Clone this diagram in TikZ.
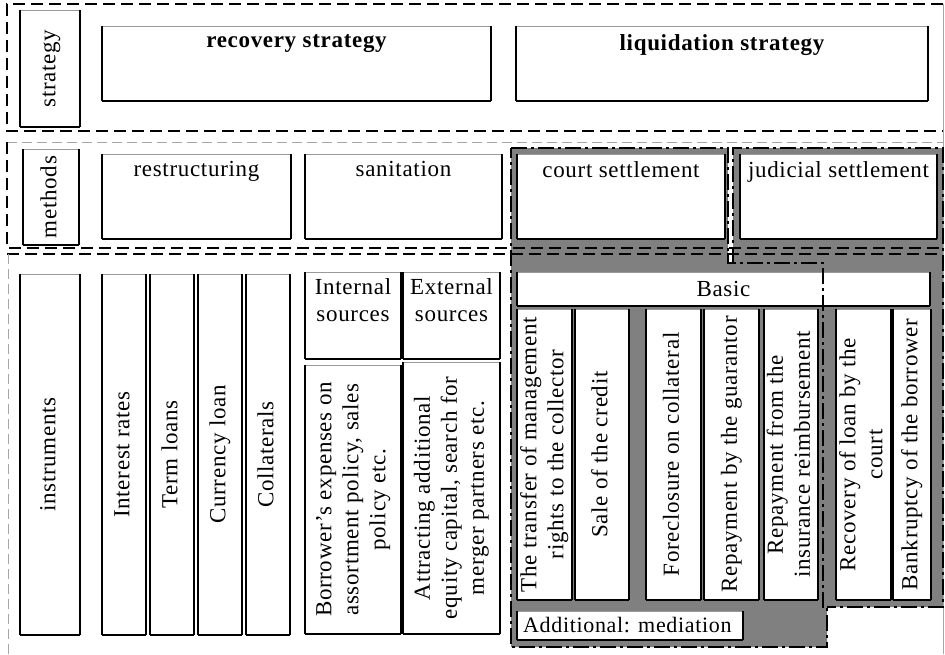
\documentclass[tikz,border=0pt]{standalone}
\usepackage{fontspec}
\setmainfont{Liberation Serif}[LetterSpace=3]
\newcommand\rottext[1]{\rotatebox{90}{\begin{tabular}{@{}c@{}}#1\end{tabular}}}
\newcommand\cellbox[6]{\node[cell, minimum width={(#4)-(#2)}, minimum height={(#5)-(#3)}] (#1) at ({((#2)+(#4))/2},{((#3)+(#5))/2}) {#6};}
\begin{document}
\begin{tikzpicture}[x=1pt,y=-1pt,
  cell/.style={draw=none, fill=white, inner sep=0pt, outer sep=0pt, font=\fontsize{23}{27}\selectfont},
  lbl/.style={inner sep=0pt, align=center, font=\fontsize{23}{27}\selectfont},
  topl/.style={lbl, anchor=north},
  frame/.style={line width=2.6pt, dash pattern=on 12pt off 6pt},
  thinframe/.style={black!35, line width=0.8pt, dash pattern=on 10pt off 5pt},
  ddot/.style={line width=2.2pt, dash pattern=on 16pt off 4pt on 3pt off 4pt},
  liqfill/.style={fill=black!50, draw=none},
  sideline/.style={line width=2.2pt},
  topline/.style={black!40, line width=0.9pt},
  botline/.style={line width=1.3pt}
]
\useasboundingbox (0,0) rectangle (945,654);

% grey backgrounds of the liquidation part
\fill[liqfill] (511,148) rectangle (728,263);
\fill[liqfill] (733,148) rectangle (943,263);
\fill[liqfill] (511,262) -- (943,262) -- (943,607) -- (827,607) -- (827,647) -- (511,647) -- cycle;

% row 1: strategy
\cellbox{strat}{20}{10}{80}{127}{\rottext{strategy}}
\cellbox{rec}{102}{26}{491}{101}{}
\cellbox{liq}{516}{26}{928}{101}{}
\node[topl, font=\fontsize{23}{27}\selectfont\bfseries] (rect) at ([yshift=-8pt]rec.north) {recovery strategy};
\node[topl, font=\fontsize{23}{27}\selectfont\bfseries] (liqt) at ([yshift=-8pt]liq.north) {liquidation strategy};

% row 2: methods
\cellbox{meth}{23}{149}{79}{245}{\rottext{methods}}
\cellbox{restr}{102}{154}{291}{239}{}
\cellbox{sanit}{305}{154}{502}{239}{}
\cellbox{court}{517}{154}{725}{239}{}
\cellbox{judic}{740}{154}{937}{239}{}
\node[topl] (restrt) at ([yshift=-7pt]restr.north) {restructuring};
\node[topl] (sanitt) at ([yshift=-7pt]sanit.north) {sanitation};
\node[topl] (courtt) at ([yshift=-7pt]court.north) {court settlement};
\node[topl] (judict) at ([yshift=-7pt]judic.north) {judicial settlement};

% row 3: instruments
\cellbox{instr}{20}{274}{80}{635}{\rottext{instruments}}
\cellbox{ir}{102}{274}{146}{635}{\rottext{Interest rates}}
\cellbox{tl}{150}{274}{194}{635}{\rottext{Term loans}}
\cellbox{cl}{198}{274}{242}{635}{\rottext{Currency loan}}
\cellbox{coll}{246}{274}{290}{635}{\rottext{Collaterals}}
\cellbox{ints}{305}{272}{401}{359}{}
\cellbox{exts}{403}{272}{500}{359}{}
\node[topl] (intst) at ([yshift=-6pt]ints.north) {Internal\\sources};
\node[topl] (extst) at ([yshift=-6pt]exts.north) {External\\sources};
\cellbox{borr}{305}{365}{401}{634}{\rottext{Borrower's expenses on\\assortment policy, sales\\policy etc.}}
\cellbox{attr}{403}{362}{500}{634}{\rottext{Attracting additional\\equity capital, search for\\merger partners etc.}}
\cellbox{basic}{517}{272}{930}{306}{Basic}
\cellbox{trans}{517}{309}{572}{600}{\rottext{The transfer of management\\rights to the collector}}
\cellbox{sale}{575}{309}{629}{600}{\rottext{Sale of the credit}}
\cellbox{fore}{646}{309}{701}{600}{\rottext{Foreclosure on collateral}}
\cellbox{guar}{704}{309}{759}{600}{\rottext{Repayment by the guarantor}}
\cellbox{ins}{764}{309}{818}{600}{\rottext{Repayment from the\\insurance reimbursement}}
\cellbox{reco}{836}{309}{891}{600}{\rottext{Recovery of loan by the\\court}}
\cellbox{bank}{893}{309}{931}{600}{\rottext{Bankruptcy of the borrower}}
\cellbox{add}{517}{611}{743}{640}{}
\node[lbl, anchor=west, font=\fontsize{22}{26}\selectfont] (addt) at ([xshift=6pt]add.west) {Additional: mediation};

% box borders
\foreach \n in {strat,rec,liq,meth,restr,sanit,court,judic,instr,ir,tl,cl,coll,ints,exts,borr,attr,basic,trans,sale,fore,guar,ins,reco,bank,add}{
  \draw[topline] (\n.north west) -- (\n.north east);
  \draw[botline] (\n.south west) -- (\n.south east);
  \draw[sideline] (\n.north west) -- (\n.south west) (\n.north east) -- (\n.south east);
}

% row frames
\draw[frame] (943,4) -- (7,4) -- (7,131) -- (943,131);
\draw[thinframe] (7,142) -- (943,142);
\draw[frame] (7,142) -- (7,248) -- (943,248);
\draw[frame] (7,254) -- (943,254);
\draw[thinframe] (8,254) -- (8,654);
\draw[black!35, line width=0.8pt] (943,4) -- (943,654);

% dash-dot outlines of the liquidation methods
\draw[ddot] (511,148) -- (728,148) -- (728,263) -- (823,263) -- (823,607) -- (827,607) -- (827,647) -- (511,647) -- cycle;
\draw[ddot] (733,263) -- (733,148) -- (943,148) -- (943,607) -- (827,607);
\end{tikzpicture}
\end{document}
